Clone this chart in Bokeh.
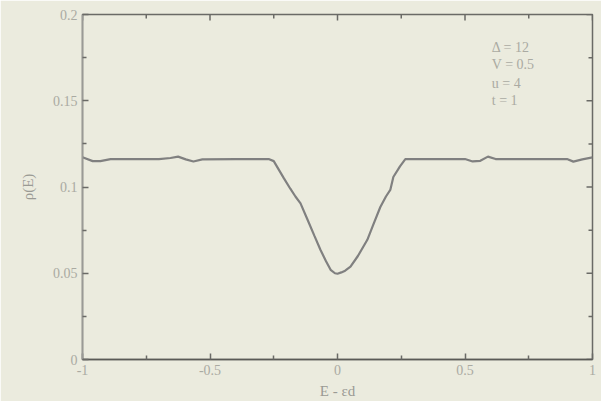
from bokeh.plotting import figure
from bokeh.models import FixedTicker, Range1d, Label
from bokeh.embed import file_html
from bokeh.resources import INLINE

# data
energy = [-1.0, -0.96, -0.93, -0.89, -0.70, -0.655, -0.625, -0.595, -0.565, -0.53,
          -0.40, -0.30, -0.27, -0.25, -0.21, -0.185, -0.165, -0.145, -0.117, -0.09,
          -0.067, -0.045, -0.027, -0.01, 0.0, 0.015, 0.03, 0.051, 0.08, 0.117,
          0.14, 0.168, 0.19, 0.207, 0.219, 0.245, 0.266, 0.30, 0.40, 0.50,
          0.53, 0.56, 0.59, 0.62, 0.80, 0.90, 0.925, 0.96, 1.0]
rho = [0.1172, 0.1150, 0.1150, 0.1162, 0.1162, 0.1168, 0.1176, 0.1160, 0.1148, 0.1160,
       0.1162, 0.1162, 0.1162, 0.1150, 0.1050, 0.0990, 0.0945, 0.0905, 0.0809, 0.0715,
       0.0636, 0.0570, 0.0520, 0.0500, 0.0497, 0.0505, 0.0515, 0.0538, 0.0600, 0.0694,
       0.0780, 0.0884, 0.0945, 0.0983, 0.1058, 0.1120, 0.1162, 0.1162, 0.1162, 0.1162,
       0.1148, 0.1152, 0.1176, 0.1162, 0.1162, 0.1162, 0.1147, 0.1160, 0.1172]

x_ticks = [-1, -0.5, 0, 0.5, 1]
x_tick_labels = ["-1", "-0.5", "0", "0.5", "1"]
y_ticks = [0, 0.05, 0.1, 0.15, 0.2]
y_tick_labels = ["0", "0.05", "0.1", "0.15", "0.2"]
params = ["Δ = 12", "V = 0.5", "u = 4", "t = 1"]
param_y = [0.181, 0.171, 0.160, 0.150]

BG = "#ebebde"
FONT = "Liberation Serif"
TXT = "#aaaaa2"
TICK = "#6a6a66"

X0, X1 = -1, 1
Y0, Y1 = 0, 0.2

p = figure(width=601, height=401, output_backend="svg", toolbar_location=None,
           x_range=Range1d(X0, X1), y_range=Range1d(Y0, Y1),
           min_border_left=82, min_border_right=9, min_border_top=14, min_border_bottom=41,
           background_fill_color=BG, border_fill_color=BG,
           outline_line_color=TICK, outline_line_width=1.5)
p.grid.visible = False

p.line(energy, rho, line_color="#808080", line_width=2.2)

def minors(ticks):
    return [(a + b) / 2 for a, b in zip(ticks[:-1], ticks[1:])]

def style(ax, ticks, labels):
    ax.ticker = FixedTicker(ticks=ticks, minor_ticks=minors(ticks))
    ax.major_tick_in = 6
    ax.major_tick_out = 0
    ax.minor_tick_in = 4
    ax.minor_tick_out = 0
    ax.major_tick_line_color = TICK
    ax.minor_tick_line_color = TICK
    ax.major_tick_line_width = 1.5
    ax.minor_tick_line_width = 1.5
    ax.major_label_overrides = {t: l for t, l in zip(ticks, labels)}
    ax.major_label_text_font = FONT
    ax.major_label_text_font_size = "14px"
    ax.major_label_text_color = TXT
    ax.axis_label_text_font = FONT
    ax.axis_label_text_font_size = "15px"
    ax.axis_label_text_font_style = "normal"
    ax.axis_label_text_color = "#9a9a94"

xa = p.xaxis[0]
style(xa, x_ticks, x_tick_labels)
xa.axis_line_color = "#5a5a56"
xa.axis_line_width = 1.5
xa.major_label_standoff = 5
xa.axis_label = "E - εd"
xa.axis_label_standoff = 5

ya = p.yaxis[0]
style(ya, y_ticks, y_tick_labels)
ya.axis_line_color = "#9a9a96"
ya.axis_line_width = 1.5
ya.major_label_standoff = 5
ya.axis_label = "ρ(E)"
ya.axis_label_standoff = 14

# inward ticks on the right and top frame edges (no labels)
dx_major, dx_minor = 6 / 255.5 * (X1 - X0) / 2, 4 / 255.5 * (X1 - X0) / 2
dy_major, dy_minor = 6 / 346 * (Y1 - Y0), 4 / 346 * (Y1 - Y0)
ym = minors(y_ticks)
xm = minors(x_ticks)
p.segment(x0=[X1] * len(y_ticks), x1=[X1 - dx_major] * len(y_ticks), y0=y_ticks, y1=y_ticks,
          line_color=TICK, line_width=1.5)
p.segment(x0=[X1] * len(ym), x1=[X1 - dx_minor] * len(ym), y0=ym, y1=ym,
          line_color=TICK, line_width=1.5)
p.segment(x0=x_ticks, x1=x_ticks, y0=[Y1] * len(x_ticks), y1=[Y1 - dy_major] * len(x_ticks),
          line_color=TICK, line_width=1.5)
p.segment(x0=xm, x1=xm, y0=[Y1] * len(xm), y1=[Y1 - dy_minor] * len(xm),
          line_color=TICK, line_width=1.5)

for t, yy in zip(params, param_y):
    p.add_layout(Label(x=0.605, y=yy, text=t, text_font=FONT, text_font_size="14px",
                       text_color=TXT, text_baseline="middle"))

open("out.html", "w").write(file_html(p, INLINE))
